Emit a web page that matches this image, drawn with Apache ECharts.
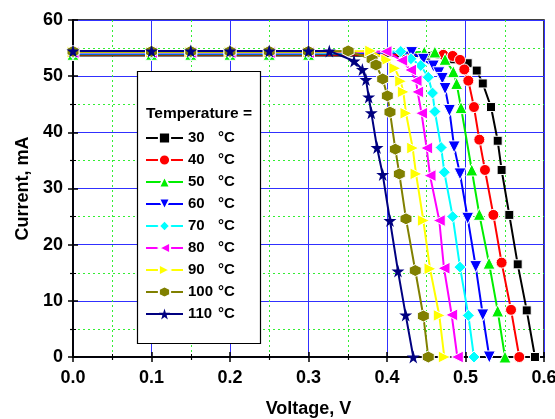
<!DOCTYPE html>
<html><head><meta charset="utf-8">
<script src="https://cdn.jsdelivr.net/npm/echarts@6/dist/echarts.min.js"></script>
<style>html,body{margin:0;padding:0;background:#fff}#c{width:555px;height:419px}</style>
</head><body><div id="c"></div>
<script>
// Temperature labels (°C)
const temps = ['30','40','50','60','70','80','90','100','110'];
const xTicks = [0, 0.1, 0.2, 0.3, 0.4, 0.5, 0.6];
const yTicks = [0, 10, 20, 30, 40, 50, 60];
// [voltage V, current mA]
const t30 = [[0,53.7],[0.1,53.7],[0.15,53.7],[0.2,53.7],[0.25,53.7],[0.3,53.7],[0.45,53.6],[0.4845,53.0],[0.5028,52.3],[0.5143,51.0],[0.522,48.7],[0.5325,44.5],[0.541,38.5],[0.546,33.3],[0.5558,25.3],[0.5665,16.5],[0.578,8.3],[0.5885,0]];
const t40 = [[0,53.8],[0.1,53.8],[0.15,53.8],[0.2,53.8],[0.25,53.8],[0.3,53.8],[0.4717,53.8],[0.4837,53.6],[0.493,52.9],[0.4985,51.2],[0.5036,49.2],[0.5108,44.5],[0.5176,38.7],[0.5248,33.3],[0.5355,25.3],[0.546,16.8],[0.558,8.4],[0.5685,0]];
const t50 = [[0,53.9],[0.1,53.9],[0.15,53.9],[0.2,53.9],[0.25,53.9],[0.3,53.9],[0.4475,54.3],[0.461,54.3],[0.474,53.0],[0.4845,50.8],[0.4887,48.7],[0.4943,44.4],[0.508,33.3],[0.5176,25.4],[0.530,16.7],[0.541,8.2],[0.5503,0]];
const t60 = [[0,54.0],[0.1,54.0],[0.15,54.0],[0.2,54.0],[0.25,54.0],[0.3,54.0],[0.4314,54.2],[0.4463,53.0],[0.459,51.8],[0.466,50.6],[0.4705,49.6],[0.474,47.8],[0.4795,43.9],[0.4855,37.4],[0.493,32.6],[0.5028,24.7],[0.513,16.1],[0.522,7.5],[0.5303,0]];
const t70 = [[0,54.1],[0.1,54.1],[0.15,54.1],[0.2,54.1],[0.25,54.1],[0.3,54.1],[0.4175,54.4],[0.4305,53.1],[0.443,51.9],[0.4525,49.8],[0.458,47.0],[0.461,43.7],[0.469,37.3],[0.473,32.9],[0.4837,25.0],[0.493,16.0],[0.5036,7.4],[0.5108,0]];
const t80 = [[0,54.2],[0.1,54.2],[0.15,54.2],[0.2,54.2],[0.25,54.2],[0.3,54.2],[0.3987,54.4],[0.4187,52.8],[0.430,51.1],[0.437,49.2],[0.439,47.2],[0.444,43.4],[0.4505,37.2],[0.4548,32.3],[0.4666,24.3],[0.4726,15.8],[0.4824,7.5],[0.4896,0]];
const t90 = [[0,54.3],[0.1,54.3],[0.15,54.3],[0.2,54.3],[0.25,54.3],[0.3,54.3],[0.3792,54.5],[0.3996,52.9],[0.410,51.4],[0.4174,49.1],[0.4208,47.2],[0.4242,43.4],[0.4327,37.2],[0.437,32.6],[0.4463,24.3],[0.4548,15.7],[0.4666,7.4],[0.473,0]];
const t100 = [[0,54.4],[0.1,54.4],[0.15,54.4],[0.2,54.4],[0.25,54.4],[0.3,54.4],[0.3505,54.5],[0.381,53.0],[0.386,52.0],[0.3945,49.5],[0.4004,46.5],[0.4038,43.6],[0.4106,37.0],[0.4157,32.6],[0.4242,24.6],[0.436,15.4],[0.4463,7.3],[0.4526,0]];
const t110 = [[0,54.5],[0.1,54.5],[0.15,54.5],[0.2,54.5],[0.25,54.5],[0.3,54.5],[0.3265,54.5],[0.358,52.7],[0.3686,51.2],[0.3732,49.4],[0.3767,46.3],[0.380,43.5],[0.3873,37.3],[0.3945,32.5],[0.4038,24.3],[0.414,15.3],[0.4238,7.5],[0.4335,0]];

const allData = [t30,t40,t50,t60,t70,t80,t90,t100,t110];
const colors = ['#000000','#ff0000','#00ee00','#0000ff','#00ffff','#ff00ff','#ffff00','#808000','#000080'];
const STAR = 'path://M50,0 L61,35 L98,35 L68,57 L79,91 L50,70 L21,91 L32,57 L2,35 L39,35 Z';
const HEX = 'path://M50,0 L93,25 L93,75 L50,100 L7,75 L7,25 Z';
const symbols = ['rect','circle','triangle','triangle','diamond','triangle','triangle',HEX,STAR];
const rotates = [0,0,0,180,0,90,-90,0,0];
const sizes = [9,11,12,12,12,12,12,12,13];
const borders = [1,1,1,1,1,1,1,1,0];

const series = temps.map((t,i)=>({
  name: t, type:'line', data: allData[i],
  symbol: symbols[i], symbolRotate: rotates[i], symbolSize: sizes[i], showAllSymbol:true,
  lineStyle:{color:colors[i], width:2},
  itemStyle:{color:colors[i], borderColor:'#fff', borderWidth:borders[i]},
  emphasis:{disabled:true}, animation:false
}));

const font = 'Liberation Sans, Arial, sans-serif';
const chart = echarts.init(document.getElementById('c'), null, {renderer:'canvas'});
chart.setOption({
  animation:false,
  grid:{left:73, right:11, top:20, bottom:62, show:true, borderColor:'#000', borderWidth:1.5, outerBoundsMode:'none', containLabel:false},
  xAxis:[{
    type:'value', min:0, max:0.6, interval:0.1,
    name:'Voltage, V', nameLocation:'middle', nameGap:43,
    nameTextStyle:{fontFamily:font, fontWeight:'bold', fontSize:18, color:'#000'},
    axisLine:{show:true, onZero:false, lineStyle:{color:'#000', width:1.5}},
    axisTick:{show:true, inside:false, length:5, lineStyle:{color:'#000', width:1.5}},
    minorTick:{show:true, splitNumber:2, length:3, lineStyle:{color:'#000', width:1.2}},
    axisLabel:{fontFamily:font, fontWeight:'bold', fontSize:18, color:'#000', margin:12, formatter:v=>v.toFixed(1)},
    splitLine:{show:true, lineStyle:{color:'#3030ff', width:1}},
    minorSplitLine:{show:true, lineStyle:{color:'#33ee33', width:1, type:[2,3]}}
  },{
    type:'value', position:'top', min:0, max:0.6, interval:0.1,
    axisLine:{show:true, lineStyle:{color:'#000', width:1.5}},
    axisTick:{show:true, inside:false, length:5, lineStyle:{color:'#000', width:1.5}},
    minorTick:{show:true, splitNumber:2, length:3, lineStyle:{color:'#000'}},
    axisLabel:{show:false}, splitLine:{show:false}
  }],
  yAxis:[{
    type:'value', min:0, max:60, interval:10,
    name:'Current, mA', nameLocation:'middle', nameGap:40, nameRotate:90,
    nameTextStyle:{fontFamily:font, fontWeight:'bold', fontSize:18, color:'#000'},
    axisLine:{show:true, onZero:false, lineStyle:{color:'#000', width:1.5}},
    axisTick:{show:true, inside:false, length:5, lineStyle:{color:'#000', width:1.5}},
    minorTick:{show:true, splitNumber:2, length:3, lineStyle:{color:'#000', width:1.2}},
    axisLabel:{fontFamily:font, fontWeight:'bold', fontSize:18, color:'#000', margin:10},
    splitLine:{show:true, lineStyle:{color:'#3030ff', width:1}},
    minorSplitLine:{show:true, lineStyle:{color:'#33ee33', width:1, type:[2,3]}}
  },{
    type:'value', position:'right', min:0, max:60, interval:10,
    axisLine:{show:true, lineStyle:{color:'#000', width:1.5}},
    axisTick:{show:true, inside:false, length:5, lineStyle:{color:'#000', width:1.5}},
    minorTick:{show:true, splitNumber:2, length:3, lineStyle:{color:'#000'}},
    axisLabel:{show:false}, splitLine:{show:false}
  }],
  graphic:[
    {type:'rect', z:3, shape:{x:137.5, y:71.5, width:123, height:272}, style:{fill:'#fff', stroke:'#000', lineWidth:1.2}},
    {type:'text', z:5, x:146, y:114, style:{text:'Temperature =', font:'bold 15.5px '+font, fill:'#000', textVerticalAlign:'middle'}}
  ],
  legend:{
    orient:'vertical', left:137, top:71, z:6,
    padding:[58,8,20,8], itemWidth:37, itemHeight:14, itemGap:4, itemTextGap:5,
    data: temps, selectedMode:false,
    formatter: n => '{n|'+n+'}{c|°C}',
    textStyle:{fontFamily:font, fontWeight:'bold', fontSize:15, color:'#000', lineHeight:18,
      rich:{n:{width:30, fontFamily:font, fontWeight:'bold', fontSize:15}, c:{fontFamily:font, fontWeight:'bold', fontSize:15}}}
  },
  series: series
});
</script></body></html>
